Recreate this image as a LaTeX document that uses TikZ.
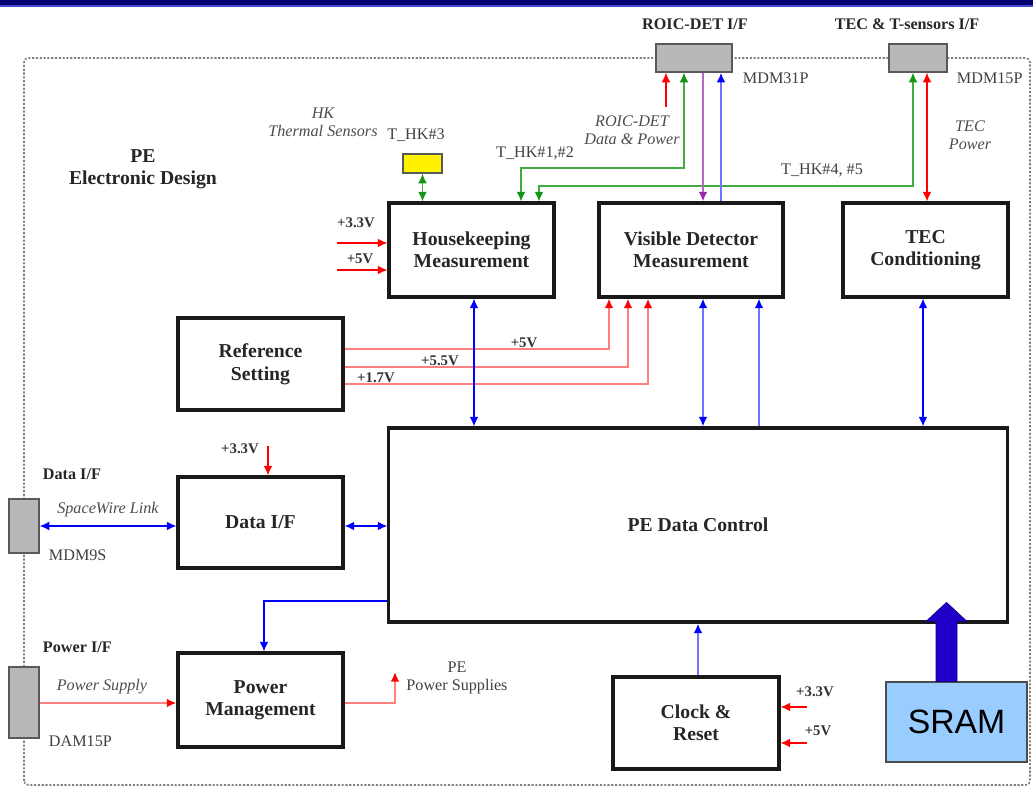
\documentclass[tikz,border=0pt]{standalone}
\usepackage{fontspec}
\setmainfont{Liberation Serif}
\newfontfamily\sramfont{Liberation Sans}
\usepackage{xcolor}
\usepackage{tikz}
\usetikzlibrary{arrows.meta}

\definecolor{hdrnavy}{RGB}{0,0,110}
\definecolor{hdrblue}{RGB}{70,70,200}
\definecolor{sramfill}{RGB}{153,204,255}
\definecolor{bigblue}{RGB}{30,0,200}
\definecolor{sigpurple}{RGB}{150,40,170}
\definecolor{siggreen}{RGB}{20,150,20}

\begin{document}
\begin{tikzpicture}[x=0.025cm, y=-0.025cm,
    block/.style={draw=black!90, line width=2.2pt, fill=white, align=center,
      font=\fontsize{14}{16}\selectfont\bfseries, text=black!85},
    plug/.style={draw=black!65, line width=1pt, fill=black!28, inner sep=0pt},
    lbl/.style={font=\fontsize{11.5}{13}\selectfont, text=black!75, align=center},
    ilbl/.style={font=\fontsize{11.5}{13}\selectfont\itshape, text=black!70, align=center},
    vlbl/.style={font=\fontsize{10.5}{12}\selectfont\bfseries, text=black!80},
    hlbl/.style={font=\fontsize{11.5}{13}\selectfont\bfseries, text=black!85},
    rt/.tip={Latex[length=2.4mm,width=2.2mm,color=red]},
    bt/.tip={Latex[length=2.4mm,width=2.2mm,color=blue]},
    gt/.tip={Latex[length=2.4mm,width=2.2mm,color=siggreen]},
    pt/.tip={Latex[length=2.4mm,width=2.2mm,color=sigpurple]},
    redline/.style={draw=red, line width=1pt},
    pinkline/.style={draw=red!50, line width=1.4pt},
    blueline/.style={draw=blue, line width=1pt},
    paleblue/.style={draw=blue!55, line width=1.4pt},
    greenline/.style={draw=siggreen!80, line width=1pt},
    purpline/.style={draw=sigpurple!70, line width=1.4pt}]

    \useasboundingbox (0,0) rectangle (1033,799);
    \fill[hdrnavy] (0,0) rectangle (1033,5);
    \fill[hdrblue] (0,5) rectangle (1033,7);

    \draw[black!50, line width=1.1pt, dash pattern=on 1.5pt off 1.2pt, rounded corners=3pt]
      (24,785) -- (24,58) -- (1030,58) -- (1030,785) -- cycle;

    \node[font=\fontsize{14}{15.6}\selectfont\bfseries, text=black!85, align=center] (title) at (143,169) {PE\\Electronic Design};

    \node[plug, minimum width=1.9cm, minimum height=0.7cm] (roic) at (694,58) {};
    \node[plug, minimum width=1.45cm, minimum height=0.7cm] (tecc) at (918,58) {};
    \node[plug, minimum width=0.75cm, minimum height=1.35cm] (mdm9) at (24,526) {};
    \node[plug, minimum width=0.75cm, minimum height=1.775cm] (pwr) at (24,702.5) {};
    \node[plug, fill=yellow, minimum width=0.975cm, minimum height=0.475cm] (sens) at (422.5,163.5) {};

    \node[hlbl] (roiclbl) at (695,24) {ROIC-DET I/F};
    \node[hlbl] (teclbl) at (907,24) {TEC \& T-sensors I/F};
    \node[lbl, anchor=west] (mdm31) at (738,78) {MDM31P};
    \node[lbl, anchor=west] (mdm15) at (952,78) {MDM15P};
    \node[ilbl] (roicnote) at (632,130) {ROIC-DET\\Data \& Power};
    \node[ilbl] (tecnote) at (970,135) {TEC\\Power};
    \node[ilbl] (hknote) at (323,122) {HK\\Thermal Sensors};
    \node[lbl] (thk3) at (416,135) {T\_HK\#3};
    \node[lbl] (thk12) at (535,153) {T\_HK\#1,\#2};
    \node[lbl] (thk45) at (822,170) {T\_HK\#4, \#5};

    \node[block, minimum width=4.125cm, minimum height=2.35cm] (hk) at (471.5,250) {Housekeeping\\Measurement};
    \node[block, minimum width=4.6cm, minimum height=2.35cm] (vd) at (691,250) {Visible Detector\\Measurement};
    \node[block, minimum width=4.125cm, minimum height=2.35cm] (tec) at (925.5,250) {TEC\\Conditioning};
    \node[block, minimum width=4.125cm, minimum height=2.3cm] (ref) at (260.5,364) {Reference\\Setting};
    \node[block, minimum width=4.125cm, minimum height=2.275cm] (dif) at (260.5,522.5) {Data I/F};
    \node[block, minimum width=15.45cm, minimum height=4.85cm] (pedc) at (698,525) {PE Data Control};
    \node[block, minimum width=4.125cm, minimum height=2.35cm] (pm) at (260.5,700) {Power\\Management};
    \node[block, minimum width=4.15cm, minimum height=2.3cm] (clk) at (696,723) {Clock \&\\Reset};
    \node[draw=black!70, line width=0.8pt, fill=sramfill, minimum width=3.525cm, minimum height=2cm,
      font=\sramfont\fontsize{24}{26}\selectfont] (sram) at (956.5,722) {SRAM};

    \node[hlbl, anchor=west] (dataif) at (38,474) {Data I/F};
    \node[ilbl] (spw) at (108,510) {SpaceWire Link};
    \node[lbl, anchor=west] (mdm9lbl) at (44,555) {MDM9S};
    \node[hlbl, anchor=west] (powerif) at (38,647) {Power I/F};
    \node[ilbl] (psup) at (102,687) {Power Supply};
    \node[lbl, anchor=west] (dam) at (44,741) {DAM15P};
    \node[lbl] (pesupl) at (457,678) {PE\\Power Supplies};

    \node[vlbl] (v1) at (356,223) {+3.3V};
    \node[vlbl] (v2) at (360,259) {+5V};
    \node[vlbl] (v3) at (524,343) {+5V};
    \node[vlbl] (v4) at (440,361) {+5.5V};
    \node[vlbl] (v5) at (376,378) {+1.7V};
    \node[vlbl] (v6) at (240,449) {+3.3V};
    \node[vlbl] (v7) at (815,692) {+3.3V};
    \node[vlbl] (v8) at (818,731) {+5V};

    \coordinate (roicin) at (666,107);
    \coordinate (hk33) at (337,243);
    \coordinate (hk5) at (337,270);
    \coordinate (dif33) at (268,446);
    \coordinate (clk33) at (807,707);
    \coordinate (clk5) at (807,743);
    \coordinate (pesup) at (395,672);

    \draw[redline, -{rt}] (roicin) -- (roic.south -| roicin);
    \draw[greenline, {gt}-{gt}] (roic.south -| 684,0) -- (684,168) -| (hk.north -| 521,0);
    \draw[greenline, {gt}-{gt}] (tecc.south -| 913,0) -- (913,186) -| (hk.north -| 539,0);
    \draw[purpline, -{pt}] (roic.south -| 703,0) -- (vd.north -| 703,0);
    \draw[paleblue, -{bt}] (vd.north -| 721,0) -- (roic.south -| 721,0);
    \draw[redline, {rt}-{rt}] (tecc.south -| 927,0) -- (tec.north -| 927,0);
    \draw[greenline, {gt}-{gt}] (sens.south) -- (hk.north -| sens.south);

    \draw[redline, -{rt}] (hk33) -- (hk.west |- hk33);
    \draw[redline, -{rt}] (hk5) -- (hk.west |- hk5);

    \draw[pinkline, -{rt}] (ref.east |- 0,349) -| (vd.south -| 609,0);
    \draw[pinkline, -{rt}] (ref.east |- 0,367) -| (vd.south -| 628,0);
    \draw[pinkline, -{rt}] (ref.east |- 0,384) -| (vd.south -| 648,0);

    \draw[blueline, {bt}-{bt}] (hk.south -| 474,0) -- (pedc.north -| 474,0);
    \draw[paleblue, {bt}-{bt}] (vd.south -| 703,0) -- (pedc.north -| 703,0);
    \draw[paleblue, -{bt}] (pedc.north -| 759,0) -- (vd.south -| 759,0);
    \draw[blueline, {bt}-{bt}] (tec.south -| 923,0) -- (pedc.north -| 923,0);

    \draw[blueline, {bt}-{bt}] (mdm9.east) -- (dif.west |- mdm9.east);
    \draw[blueline, {bt}-{bt}] (dif.east |- mdm9.east) -- (pedc.west |- mdm9.east);
    \draw[redline, -{rt}] (dif33) -- (dif.north -| dif33);

    \draw[pinkline, -{rt}] (pwr.east |- 0,703) -- (pm.west |- 0,703);
    \draw[pinkline, -{rt}] (pm.east |- 0,703) -| (pesup);
    \draw[blueline, -{bt}] (pedc.west |- 0,601) -| (pm.north -| 264,0);

    \draw[paleblue, -{bt}] (clk.north -| 698,0) -- (pedc.south -| 698,0);
    \draw[redline, -{rt}] (clk33) -- (clk.east |- clk33);
    \draw[redline, -{rt}] (clk5) -- (clk.east |- clk5);

    \fill[bigblue, draw=bigblue!70!black, line width=0.5pt] (sram.north) ++(-20.5,0) -- ++(0,-60) -- ++(-10,0)
      -- ++(20.5,-19) -- ++(20.5,19) -- ++(-10,0) -- ++(0,60) -- cycle;
  \end{tikzpicture}
\end{document}
